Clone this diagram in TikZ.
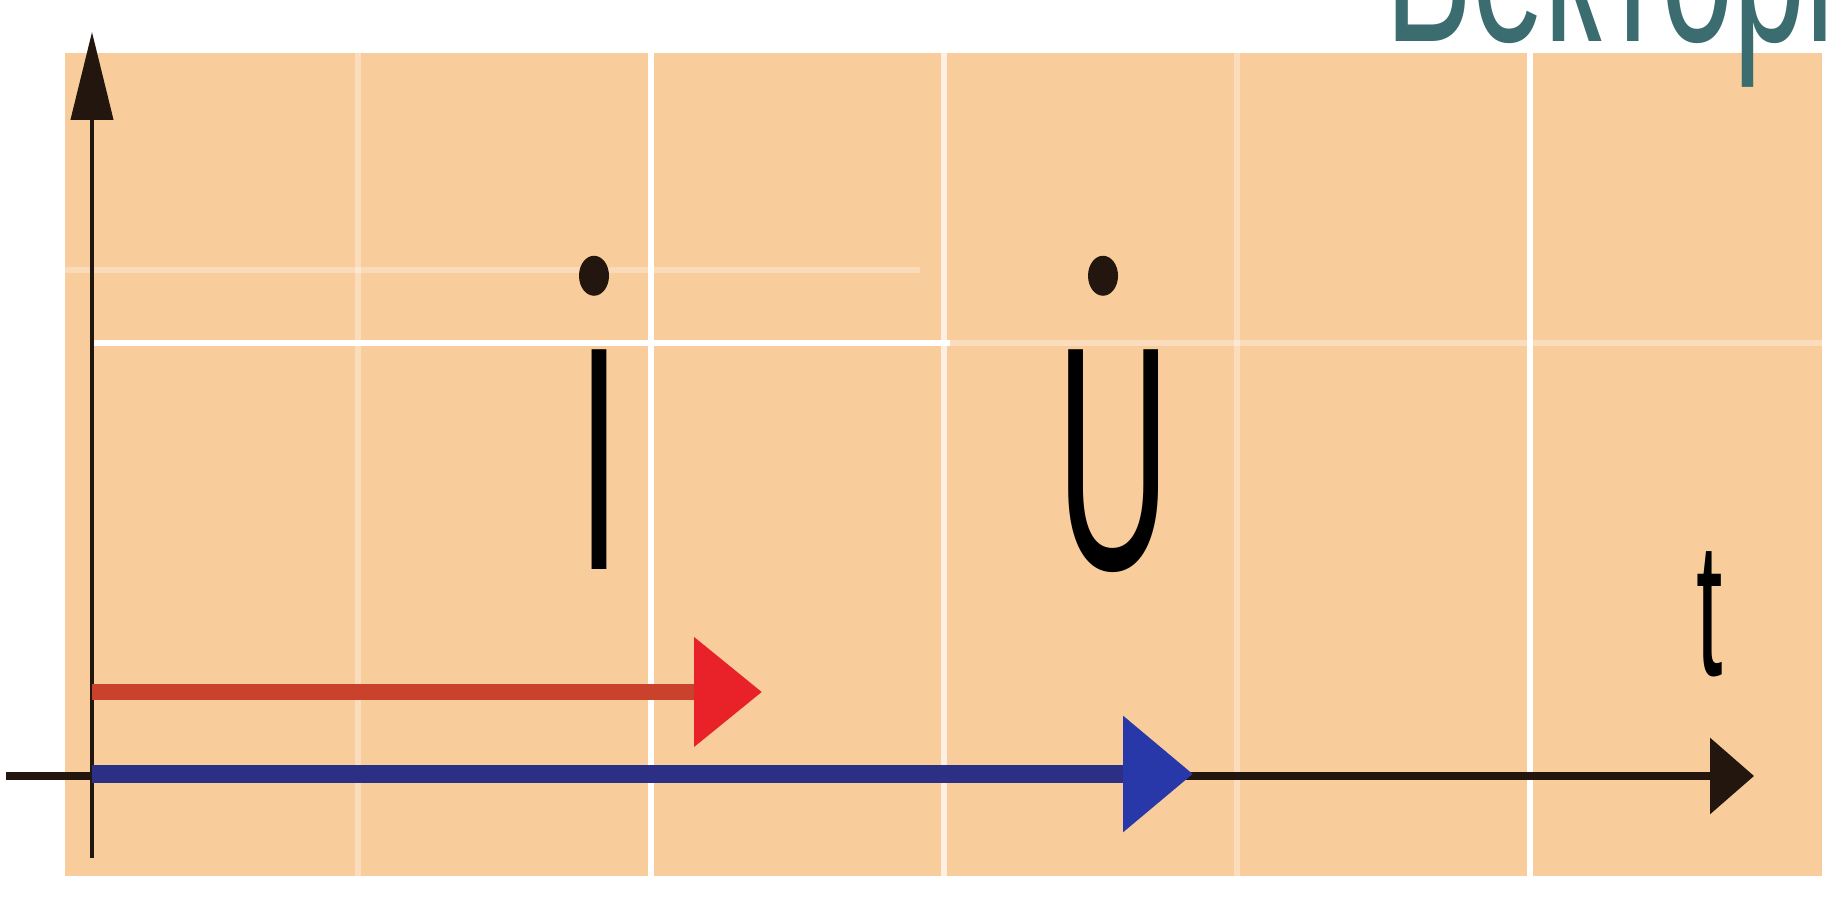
\documentclass[tikz,border=0pt]{standalone}
\usepackage{fontspec}
\setmainfont{Liberation Sans}
\usetikzlibrary{arrows.meta}
\definecolor{peach}{RGB}{249,204,156}
\definecolor{vecred}{RGB}{200,66,44}
\definecolor{headred}{RGB}{232,34,40}
\definecolor{vecblue}{RGB}{44,48,132}
\definecolor{headblue}{RGB}{40,56,168}
\definecolor{axisink}{RGB}{35,22,14}
\definecolor{titleteal}{RGB}{58,108,112}
\begin{document}
\begin{tikzpicture}[>=Stealth]
  \tikzset{grid/.style={white, line width=1.6pt},
    axis/.style={axisink, line width=1.4pt},
    letter/.style={inner sep=0pt, anchor=base, font=\fontsize{45}{45}\selectfont, xscale=1.0, yscale=2.02},
    phasor/.style={line width=5pt}}
  \useasboundingbox (0,0) rectangle (18.43,9.22);
  \clip (0,0) rectangle (18.43,9.22);
  \fill[peach] (0.65,0.46) rectangle (18.22,8.69);
  \foreach \x/\o in {3.58/0.35, 6.51/1, 9.44/0.7, 12.37/0.35, 15.30/1}
    \draw[grid, opacity=\o] (\x,0.46) -- (\x,8.69);
  \draw[grid] (0.94,5.79) -- (9.5,5.79);
  \draw[grid, opacity=0.35] (9.5,5.79) -- (18.22,5.79);
  \draw[grid, opacity=0.3] (0.65,6.52) -- (9.2,6.52);
  \node[titleteal, inner sep=0pt, anchor=base west, font=\fontsize{37}{37}\selectfont, yscale=1.7] (title) at (13.85,8.80) {Векторні};
  \coordinate (O) at (0.92,1.46);
  \coordinate (left) at (0.06,1.46);
  \coordinate (tend) at (17.54,1.46);
  \coordinate (bottom) at (0.92,0.64);
  \coordinate (top) at (0.92,8.90);
  \coordinate (Ubase) at (0.92,1.48);
  \coordinate (Utip) at (11.93,1.48);
  \coordinate (Ibase) at (0.92,2.30);
  \coordinate (Itip) at (7.62,2.30);
  \draw[axis, line width=1.2pt, -{Triangle[length=0.88cm, width=0.42cm]}] (bottom) -- (top);
  \draw[axis, line width=2pt, -{Triangle[length=0.44cm, width=0.75cm]}] (left) -- (tend);
  \draw[vecblue, phasor, -{Triangle[length=0.70cm, width=1.12cm, color=headblue]}] (Ubase) -- (Utip);
  \draw[vecred, phasor, line width=4.5pt, -{Triangle[length=0.68cm, width=1.06cm, color=headred]}] (Ibase) -- (Itip);
  \node[letter] (Ilbl) at (5.99,3.52) {I};
  \node[letter] (Ulbl) at (11.14,3.52) {U};
  \node[letter, font=\fontsize{27}{27}\selectfont] (tlbl) at (17.10,2.46) {t};
  \fill[axisink] ([xshift=-0.05cm, yshift=0.73cm]Ilbl.north) ellipse [x radius=0.15, y radius=0.2];
  \fill[axisink] ([xshift=-0.11cm, yshift=0.73cm]Ulbl.north) ellipse [x radius=0.15, y radius=0.2];
\end{tikzpicture}
\end{document}
